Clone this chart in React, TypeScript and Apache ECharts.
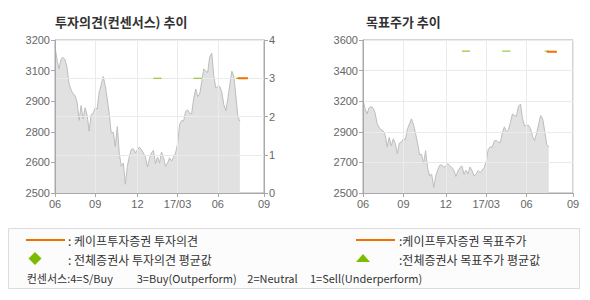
import React, { useEffect, useRef } from "react";
import * as echarts from "echarts";

// ---- data ----
const SLOT_COUNT = 105; // date slots on the x axis (Jun 2016 .. Sep 2017)
const xTickIndex = [0, 20, 41, 61, 81, 104];
const xTickLabels = ["06", "09", "12", "17/03", "06", "09"];
const priceLeftLabels = ["2500", "2600", "2800", "2900", "3100", "3200"];
const opinionLabels = ["0", "1", "2", "3", "4"];
const priceRightLabels = ["2500", "2700", "2900", "3200", "3400", "3600"];

const price = [
  3170, 3109, 3068, 3112, 3121, 3110, 3075, 2999, 2972, 2953,
  2946, 2915, 2832, 2900, 2839, 2890, 2855, 2783, 2859, 2865,
  2890, 2885, 2961, 2996, 3033, 2990, 2930, 2860, 2775, 2778,
  2713, 2804, 2680, 2622, 2637, 2540, 2622, 2667, 2700, 2702,
  2683, 2698, 2710, 2698, 2683, 2664, 2619, 2657, 2683, 2695,
  2634, 2664, 2637, 2687, 2661, 2622, 2637, 2661, 2646, 2664,
  2683, 2725, 2813, 2832, 2829, 2874, 2880, 2865, 2862, 2931,
  2976, 2941, 2953, 3007, 3068, 3057, 3052, 3124, 3139, 3037,
  2981, 2987, 2987, 2961, 2905, 2877, 2931, 2996, 3057, 3033,
  2945, 2850, 2828,
];

// [fromSlot, toSlot, value]
const avgOpinionSegments: [number, number, number][] = [[49, 53, 3], [69, 73, 3], [90, 92, 3]];
const capeOpinionSegments: [number, number, number][] = [[91, 96, 3]];
const avgTargetSegments: [number, number, number][] = [[49, 53, 3520], [69, 73, 3520], [90, 92, 3520]];
const capeTargetSegments: [number, number, number][] = [[91, 96, 3515]];

// ---- helpers ----
const slots = Array.from({ length: SLOT_COUNT }, (_, i) => String(i));
const segData = (segs: [number, number, number][]) => {
  const arr: (number | null)[] = new Array(SLOT_COUNT).fill(null);
  segs.forEach(([a, b, v]) => {
    for (let i = a; i <= b; i++) arr[i] = v;
  });
  return arr;
};

const KR = "'Noto Sans CJK KR', 'Noto Sans', sans-serif";
const NUM = "'Liberation Sans', Arial, sans-serif";
const AXIS = "#a9a9a9";
const GRIDC = "#ebebeb";
const LABEL = "#666";
const GREEN = "#7cbb00";
const ORANGE = "#f07000";

const isTick = (i: number) => xTickIndex.indexOf(i) >= 0;

const makeX = (gridIndex: number) => ({
  type: "category",
  gridIndex,
  data: slots,
  boundaryGap: false,
  z: 3,
  axisLine: { lineStyle: { color: AXIS } },
  axisTick: { show: true, length: 4, interval: (i: number) => isTick(i), lineStyle: { color: AXIS } },
  axisLabel: {
    interval: (i: number) => isTick(i),
    formatter: (_v: string, i: number) => {
      const k = xTickIndex.indexOf(i);
      return k >= 0 ? xTickLabels[k] : "";
    },
    color: LABEL,
    fontSize: 11,
    fontFamily: NUM,
    margin: 5,
  },
  splitLine: { show: true, interval: (i: number) => isTick(i), lineStyle: { color: GRIDC } },
});

const labelAxis = (gridIndex: number, labels: string[], position: string, split: boolean) => ({
  type: "value",
  gridIndex,
  position,
  min: 0,
  max: labels.length - 1,
  interval: 1,
  z: 3,
  axisLine: { show: true, lineStyle: { color: AXIS } },
  axisTick: { show: true, length: 4, lineStyle: { color: AXIS } },
  axisLabel: {
    formatter: (v: number) => labels[Math.round(v)] ?? "",
    color: LABEL,
    fontSize: 11,
    fontFamily: NUM,
    margin: 5,
  },
  splitLine: { show: split, lineStyle: { color: GRIDC } },
});

const hiddenAxis = (gridIndex: number, min: number, max: number) => ({
  type: "value",
  gridIndex,
  min,
  max,
  show: false,
  splitLine: { show: false },
});

const priceSeries = (xi: number, yi: number) => ({
  type: "line",
  xAxisIndex: xi,
  yAxisIndex: yi,
  data: price,
  symbol: "none",
  z: 2,
  lineStyle: { color: "#bdbdbd", width: 1 },
  areaStyle: { color: "#e1e1e1", opacity: 1, origin: "start" },
});

const segSeries = (xi: number, yi: number, segs: [number, number, number][], color: string, width: number, z: number) => ({
  type: "line",
  xAxisIndex: xi,
  yAxisIndex: yi,
  data: segData(segs),
  symbol: "none",
  connectNulls: false,
  z,
  lineStyle: { color, width },
});

const txt = (x: number, y: number, text: string, size: number, extra: any = {}) => ({
  type: "text",
  x,
  y,
  style: {
    text,
    fill: "#333",
    fontSize: size,
    fontFamily: KR,
    verticalAlign: "middle",
    ...extra,
  },
});

export default function App() {
  const ref = useRef<HTMLDivElement>(null);
  useEffect(() => {
    if (!ref.current) return;
    const chart = echarts.init(ref.current, undefined, { renderer: "svg" });
    chart.setOption({
      animation: false,
      backgroundColor: "#fff",
      grid: [
        { left: 55, top: 40, width: 209, height: 153, show: true, borderColor: AXIS, borderWidth: 1, backgroundColor: "transparent" },
        { left: 363, top: 40, width: 210, height: 153, show: true, borderColor: AXIS, borderWidth: 1, backgroundColor: "transparent" },
      ],
      xAxis: [makeX(0), makeX(1)],
      yAxis: [
        labelAxis(0, priceLeftLabels, "left", false),
        labelAxis(0, opinionLabels, "right", true),
        hiddenAxis(0, 2500, 3200),
        labelAxis(1, priceRightLabels, "left", true),
        hiddenAxis(1, 2500, 3600),
      ],
      series: [
        priceSeries(0, 2),
        segSeries(0, 1, avgOpinionSegments, GREEN, 1, 5),
        segSeries(0, 1, capeOpinionSegments, ORANGE, 2, 6),
        priceSeries(1, 4),
        segSeries(1, 4, avgTargetSegments, GREEN, 1, 5),
        segSeries(1, 4, capeTargetSegments, ORANGE, 2, 6),
      ],
      graphic: [
        txt(55, 21, "투자의견(컨센서스) 추이", 13, { fontWeight: "bold" }),
        txt(366, 21, "목표주가 추이", 13, { fontWeight: "bold" }),
        {
          type: "rect",
          shape: { x: 8.5, y: 228.5, width: 571, height: 60 },
          style: { fill: "#fcfcfc", stroke: "#dcdcdc", lineWidth: 1 },
        },
        { type: "line", shape: { x1: 26, y1: 240, x2: 65, y2: 240 }, style: { stroke: ORANGE, lineWidth: 2 } },
        txt(68, 240, ": 케이프투자증권 투자의견", 12),
        {
          type: "polygon",
          shape: { points: [[35, 252], [41.5, 258.5], [35, 265], [28.5, 258.5]] },
          style: { fill: GREEN },
        },
        txt(68, 259, ": 전체증권사 투자의견 평균값", 12),
        { type: "line", shape: { x1: 356, y1: 240, x2: 395, y2: 240 }, style: { stroke: ORANGE, lineWidth: 2 } },
        txt(399, 240, ":케이프투자증권 목표주가", 12),
        {
          type: "polygon",
          shape: { points: [[363, 254], [370, 262], [356, 262]] },
          style: { fill: GREEN },
        },
        txt(399, 259, ":전체증권사 목표주가 평균값", 12),
        txt(26.7, 278, "컨센서스:4=S/Buy", 11),
        txt(136.7, 278, "3=Buy(Outperform)", 11),
        txt(247.3, 278, "2=Neutral", 11),
        txt(310, 278, "1=Sell(Underperform)", 11),
      ],
    });
    return () => chart.dispose();
  }, []);
  return (
    <div
      ref={ref}
      style={{ position: "fixed", left: 0, top: 0, width: 590, height: 300 }}
    />
  );
}
